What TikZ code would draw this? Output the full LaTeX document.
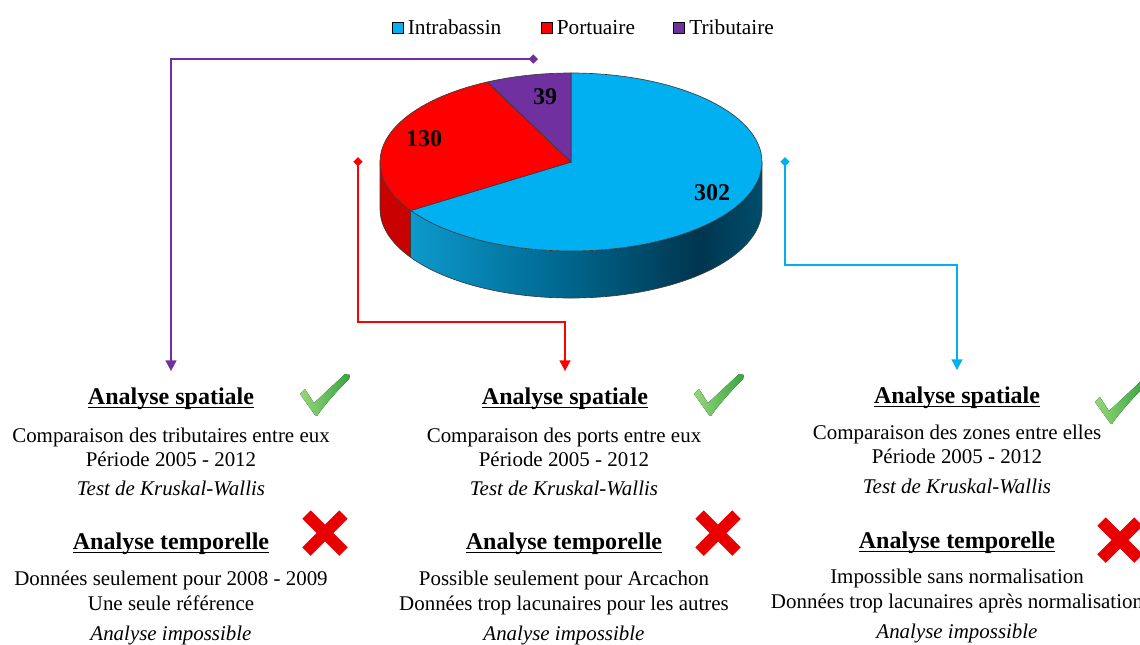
\documentclass[tikz,border=0pt]{standalone}
\usepackage{fontspec}
\setmainfont{Liberation Serif}
\usetikzlibrary{calc,positioning,arrows.meta}

\definecolor{bleuintra}{RGB}{0,176,240}
\definecolor{rougeport}{RGB}{255,0,0}
\definecolor{violettrib}{RGB}{112,48,160}
\definecolor{rougecote}{RGB}{200,0,0}
\definecolor{contour}{RGB}{60,60,60}
\definecolor{vertclair}{RGB}{150,215,120}
\definecolor{vertfonce}{RGB}{55,165,65}
\definecolor{rougecroix}{RGB}{232,0,0}

\pgfdeclarehorizontalshading{cotebleu}{100bp}{rgb(0bp)=(0.05,0.6,0.8); rgb(25bp)=(0.05,0.6,0.8);
  rgb(45bp)=(0,0.42,0.58); rgb(66bp)=(0,0.21,0.31); rgb(75bp)=(0,0.3,0.42); rgb(100bp)=(0,0.3,0.42)}

\tikzstyle{titre}=[font=\fontsize{18}{20}\selectfont\bfseries,inner sep=0pt,anchor=base]
\tikzstyle{texte}=[font=\fontsize{15.7}{18}\selectfont,inner sep=0pt,anchor=base]
\tikzstyle{texteit}=[font=\fontsize{15.7}{18}\selectfont\itshape,inner sep=0pt,anchor=base]
\tikzstyle{chiffre}=[font=\fontsize{18}{20}\selectfont\bfseries,inner sep=0pt]
\tikzstyle{carre}=[rectangle,draw=black,line width=0.7pt,minimum size=8.3pt,inner sep=0pt]
\tikzstyle{legende}=[font=\fontsize{16}{18}\selectfont,inner sep=0pt]
\tikzstyle{lien}=[line width=1.5pt,shorten >=12pt,
                  {Diamond[length=7pt,width=7pt]}-{Triangle[length=8pt,width=8pt]}]
\tikzstyle{bord}=[draw=contour,line width=0.5pt]

\newcommand\souligne[1]{\setbox0=\hbox{#1}\rlap{\rule[-3pt]{\wd0}{1.1pt}}\box0}
\newcommand\dessincoche[2]{
    \fill[left color=vertclair,right color=vertfonce,shift={(#1,#2)}]
        (0,0) -- (-15,-21) -- (-10,-26) -- (-1,-12) -- (30,-41) -- (35,-40) -- (34,-36)
        .. controls (20,-22) and (8,-8) .. (2,1) -- cycle;
}
\newcommand\dessincroix[2]{
    \draw[rougecroix,line width=9pt,line cap=butt,shift={(#1,#2)}]
        (-18.5,-18.5) -- (18.5,18.5) (-18.5,18.5) -- (18.5,-18.5);
}

\begin{document}
\begin{tikzpicture}[x=0.75pt,y=-0.75pt]
    \useasboundingbox (0,0) rectangle (1140,644);

    % legende
    \node [carre,fill=bleuintra] (carreIntra) at (397.5,27.5) {};
    \node [legende,right=3pt of carreIntra] (legIntra) {Intrabassin};
    \node [carre,fill=rougeport] (carrePort) at (546.5,27.5) {};
    \node [legende,right=3pt of carrePort] (legPort) {Portuaire};
    \node [carre,fill=violettrib] (carreTrib) at (679,27.5) {};
    \node [legende,right=3pt of carreTrib] (legTrib) {Tributaire};

    % camembert
    \coordinate (centre) at (571,162);
    \path (centre) ++(0:191 and 89) coordinate (bordD);
    \path (centre) ++(147:191 and 89) coordinate (jonction);
    \path (centre) ++(180:191 and 89) coordinate (bordG);
    \path (centre) ++(244:191 and 89) coordinate (jonctionH);
    \path (centre) ++(270:191 and 89) coordinate (sommet);

    \shade [shading=cotebleu] (bordD) arc[start angle=0,end angle=147,x radius=191,y radius=89]
        -- ++(0,47) arc[start angle=147,end angle=0,x radius=191,y radius=89] -- cycle;
    \fill [rougecote] (jonction) arc[start angle=147,end angle=180,x radius=191,y radius=89]
        -- ++(0,47) arc[start angle=180,end angle=147,x radius=191,y radius=89] -- cycle;
    \draw [bord] (bordD) -- ++(0,47) arc[start angle=0,end angle=180,x radius=191,y radius=89]
        -- (bordG);
    \draw [bord] (jonction) -- ++(0,47);

    \filldraw [bord,fill=bleuintra] (centre) -- (sommet)
        arc[start angle=-90,end angle=147,x radius=191,y radius=89] -- cycle;
    \filldraw [bord,fill=rougeport] (centre) -- (jonction)
        arc[start angle=147,end angle=244,x radius=191,y radius=89] -- cycle;
    \filldraw [bord,fill=violettrib] (centre) -- (jonctionH)
        arc[start angle=244,end angle=270,x radius=191,y radius=89] -- cycle;

    \node [chiffre] (n302) at (712,193) {302};
    \node [chiffre] (n130) at (424,139) {130};
    \node [chiffre] (n39) at (545,97) {39};

    % colonne tributaires
    \node [titre] (spatTrib) at (171,404) {\souligne{Analyse spatiale}};
    \node [texte] (compTrib) at (171,442) {Comparaison des tributaires entre eux};
    \node [texte] (perTrib) at (171,466) {Période 2005 - 2012};
    \node [texteit] (testTrib) at (171,495) {Test de Kruskal-Wallis};
    \node [titre] (tempTrib) at (171,549) {\souligne{Analyse temporelle}};
    \node [texte] (donTrib) at (171,585) {Données seulement pour 2008 - 2009};
    \node [texte] (refTrib) at (171,610) {Une seule référence};
    \node [texteit] (impTrib) at (171,640) {Analyse impossible};
    \dessincoche{315}{415}
    \dessincroix{325}{533}

    % colonne ports
    \node [titre] (spatPort) at (565,404) {\souligne{Analyse spatiale}};
    \node [texte] (compPort) at (564,442) {Comparaison des ports entre eux};
    \node [texte] (perPort) at (564,466) {Période 2005 - 2012};
    \node [texteit] (testPort) at (564,495) {Test de Kruskal-Wallis};
    \node [titre] (tempPort) at (564,549) {\souligne{Analyse temporelle}};
    \node [texte] (donPort) at (564,585) {Possible seulement pour Arcachon};
    \node [texte] (lacPort) at (564,610) {Données trop lacunaires pour les autres};
    \node [texteit] (impPort) at (564,640) {Analyse impossible};
    \dessincoche{709}{415}
    \dessincroix{718}{533}

    % colonne intrabassin
    \node [titre] (spatIntra) at (957,403) {\souligne{Analyse spatiale}};
    \node [texte] (compIntra) at (957,439) {Comparaison des zones entre elles};
    \node [texte] (perIntra) at (957,463) {Période 2005 - 2012};
    \node [texteit] (testIntra) at (957,493) {Test de Kruskal-Wallis};
    \node [titre] (tempIntra) at (957,548) {\souligne{Analyse temporelle}};
    \node [texte] (normIntra) at (957,583) {Impossible sans normalisation};
    \node [texte] (lacIntra) at (957,608) {Données trop lacunaires après normalisation};
    \node [texteit] (impIntra) at (957,638) {Analyse impossible};
    \dessincoche{1110}{423}
    \dessincroix{1120}{540}

    % liens
    \coordinate (departTrib) at (538,59);
    \coordinate (departPort) at (358,157);
    \coordinate (coudePort) at (565,322);
    \coordinate (departIntra) at (785,157);
    \coordinate (coudeIntra) at (957,265);
    \draw [lien,violettrib] (departTrib) -| (spatTrib.north);
    \draw [lien,rougeport] (departPort) |- (coudePort) -- (coudePort |- spatPort.north);
    \draw [lien,bleuintra] (departIntra) |- (coudeIntra) -- (coudeIntra |- spatIntra.north);
\end{tikzpicture}
\end{document}
